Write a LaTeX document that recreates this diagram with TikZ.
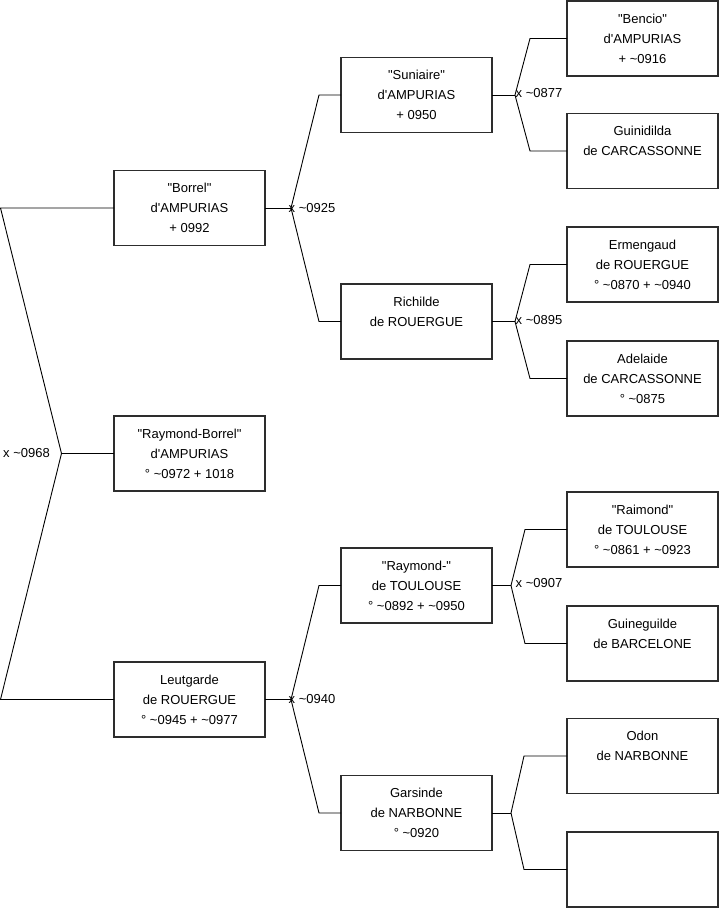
\documentclass[tikz,border=0pt]{standalone}
\usepackage{fontspec}
\setmainfont{Liberation Sans}[Ligatures=TeXOff]
\begin{document}
\begin{tikzpicture}[x=1pt,y=-1pt,
  person/.style={draw={rgb,255:red,45;green,45;blue,45}, line width=1.1pt, minimum width=151pt, minimum height=75pt, inner sep=0pt, outer sep=0pt, align=center, font=\fontsize{13}{20}\selectfont},
  link/.style={draw=black, line width=0.9pt},
  marr/.style={anchor=west, inner sep=0pt, font=\fontsize{13}{16}\selectfont}]
\useasboundingbox (0,0) rectangle (719,908);
% level 1
\node[person] (borrel) at (189.5,208) {"Borrel"\\d'AMPURIAS\\+ 0992};
\node[person] (rayb) at (189.5,453.5) {"Raymond-Borrel"\\d'AMPURIAS\\° \textasciitilde0972 + 1018};
\node[person] (leut) at (189.5,699.5) {Leutgarde\\de ROUERGUE\\° \textasciitilde0945 + \textasciitilde0977};
% level 2
\node[person] (sun) at (416.5,95) {"Suniaire"\\d'AMPURIAS\\+ 0950};
\node[person] (rich) at (416.5,321.5) {Richilde\\de ROUERGUE\\\mbox{}};
\node[person] (raym) at (416.5,585.5) {"Raymond-"\\de TOULOUSE\\° \textasciitilde0892 + \textasciitilde0950};
\node[person] (gars) at (416.5,813) {Garsinde\\de NARBONNE\\° \textasciitilde0920};
% level 3
\node[person] (benc) at (642.5,38.5) {"Bencio"\\d'AMPURIAS\\+ \textasciitilde0916};
\node[person] (guin) at (642.5,151) {Guinidilda\\de CARCASSONNE\\\mbox{}};
\node[person] (erme) at (642.5,264.5) {Ermengaud\\de ROUERGUE\\° \textasciitilde0870 + \textasciitilde0940};
\node[person] (adel) at (642.5,378.5) {Adelaide\\de CARCASSONNE\\° \textasciitilde0875};
\node[person] (raim) at (642.5,529.5) {"Raimond"\\de TOULOUSE\\° \textasciitilde0861 + \textasciitilde0923};
\node[person] (guig) at (642.5,643.5) {Guineguilde\\de BARCELONE\\\mbox{}};
\node[person] (odon) at (642.5,756) {Odon\\de NARBONNE\\\mbox{}};
\node[person] (empt) at (642.5,869.5) {};
% root fork
\coordinate (rt) at (0.5,208);
\coordinate (rj) at (61.5,453.5);
\coordinate (rb) at (0.5,699.5);
\draw[link] (borrel.west) -- (rt) -- (rj) -- (rb) -- (leut.west);
\draw[link] (rj) -- (rayb.west);
\node[marr] (m0968) at (3,453.5) {x \textasciitilde0968};
% Borrel fork
\coordinate (j1) at (291,208);
\coordinate (j1a) at (319,95);
\coordinate (j1b) at (319,321.5);
\draw[link] (borrel.east) -- (j1);
\draw[link] (sun.west) -- (j1a) -- (j1) -- (j1b) -- (rich.west);
\node[marr] (m0925) at (288.5,208) {x \textasciitilde0925};
% Leutgarde fork
\coordinate (j2) at (291,699.5);
\coordinate (j2a) at (319,585.5);
\coordinate (j2b) at (319,813);
\draw[link] (leut.east) -- (j2);
\draw[link] (raym.west) -- (j2a) -- (j2) -- (j2b) -- (gars.west);
\node[marr] (m0940) at (288.5,699.5) {x \textasciitilde0940};
% Suniaire fork
\coordinate (j3) at (515,95);
\coordinate (j3a) at (530,38.5);
\coordinate (j3b) at (530,151);
\draw[link] (sun.east) -- (j3);
\draw[link] (benc.west) -- (j3a) -- (j3) -- (j3b) -- (guin.west);
\node[marr] (m0877) at (515.5,93.5) {x \textasciitilde0877};
% Richilde fork
\coordinate (j4) at (515,321.5);
\coordinate (j4a) at (530,264.5);
\coordinate (j4b) at (530,378.5);
\draw[link] (rich.east) -- (j4);
\draw[link] (erme.west) -- (j4a) -- (j4) -- (j4b) -- (adel.west);
\node[marr] (m0895) at (515.5,320.5) {x \textasciitilde0895};
% Raymond- fork
\coordinate (j5) at (511,585.5);
\coordinate (j5a) at (525,529.5);
\coordinate (j5b) at (525,643.5);
\draw[link] (raym.east) -- (j5);
\draw[link] (raim.west) -- (j5a) -- (j5) -- (j5b) -- (guig.west);
\node[marr] (m0907) at (515.5,583) {x \textasciitilde0907};
% Garsinde fork
\coordinate (j6) at (511,813);
\coordinate (j6a) at (524,756);
\coordinate (j6b) at (524,869.5);
\draw[link] (gars.east) -- (j6);
\draw[link] (odon.west) -- (j6a) -- (j6) -- (j6b) -- (empt.west);
\end{tikzpicture}
\end{document}
